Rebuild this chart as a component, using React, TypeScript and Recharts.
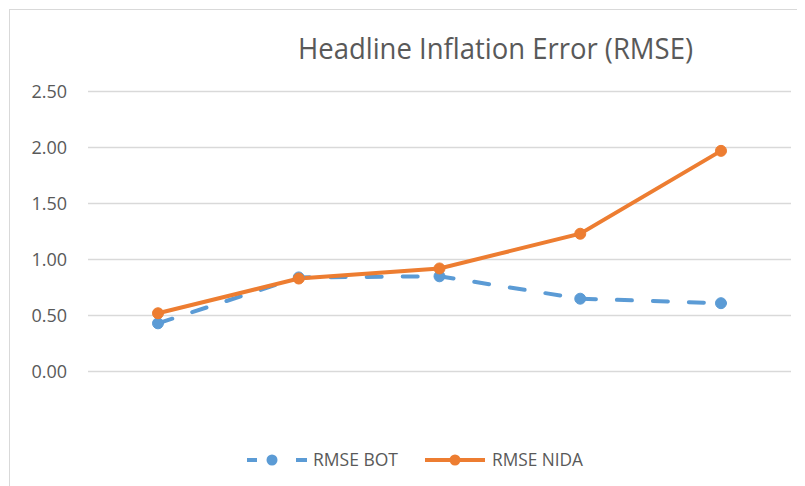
import React from "react";
import { LineChart, Line, XAxis, YAxis, CartesianGrid } from "recharts";

const categories = ["H1", "H2", "H3", "H4", "H5"];
const rmseBot = [0.43, 0.84, 0.85, 0.65, 0.61];
const rmseNida = [0.52, 0.83, 0.92, 1.23, 1.97];
const yTicks = [0, 0.5, 1, 1.5, 2, 2.5];
const seriesNames = ["RMSE BOT", "RMSE NIDA"];
const title = "Headline Inflation Error (RMSE)";

const data = categories.map((c, i) => ({ cat: c, bot: rmseBot[i], nida: rmseNida[i] }));

const BLUE = "#5B9BD5";
const ORANGE = "#ED7D31";
const FONT = "'Open Sans', 'Liberation Sans', sans-serif";

export default function App() {
  return (
    <div style={{ position: "relative", width: 797, height: 478, background: "#fff" }}>
      <div
        style={{
          position: "absolute",
          left: 1,
          top: 1,
          right: -20,
          bottom: -20,
          borderLeft: "1px solid #d9d9d9",
          borderTop: "1px solid #d9d9d9",
        }}
      />
      <LineChart
        width={797}
        height={478}
        data={data}
        margin={{ top: 83.5, right: 14, bottom: 114.5, left: 0 }}
        style={{ position: "absolute", left: 0, top: 0 }}
      >
        <CartesianGrid vertical={false} stroke="#d9d9d9" strokeWidth={1.4} />
        <XAxis dataKey="cat" hide padding={{ left: 70, right: 70 }} />
        <YAxis
          width={80}
          domain={[0, 2.5]}
          ticks={yTicks}
          tickFormatter={(v: number) => v.toFixed(2)}
          axisLine={false}
          tickLine={false}
          tickSize={0}
          tickMargin={21}
          tick={{ fill: "#595959", fontSize: 18, fontFamily: FONT }}
        />
        <Line
          dataKey="bot"
          name={seriesNames[0]}
          stroke={BLUE}
          strokeWidth={4}
          strokeDasharray="15 21"
          strokeLinecap="round"
          dot={{ r: 5.5, fill: BLUE, stroke: BLUE, strokeWidth: 1, strokeDasharray: "" }}
          isAnimationActive={false}
        />
        <Line
          dataKey="nida"
          name={seriesNames[1]}
          stroke={ORANGE}
          strokeWidth={4}
          dot={{ r: 5.5, fill: ORANGE, stroke: ORANGE, strokeWidth: 1 }}
          isAnimationActive={false}
        />
      </LineChart>
      <svg
        width={797}
        height={478}
        style={{ position: "absolute", left: 0, top: 0, pointerEvents: "none" }}
      >
        <text
          x={290}
          y={51}
          fontSize={30}
          fontFamily={FONT}
          fill="#595959"
          textLength={395}
          lengthAdjust="spacingAndGlyphs"
        >
          {title}
        </text>
        <line x1={239} y1={452} x2={249} y2={452} stroke={BLUE} strokeWidth={4} />
        <circle cx={264} cy={452} r={5.5} fill={BLUE} />
        <line x1={288} y1={452} x2={299} y2={452} stroke={BLUE} strokeWidth={4} />
        <text x={305} y={458} fontSize={18} fontFamily={FONT} fill="#595959" textLength={85} lengthAdjust="spacingAndGlyphs">
          {seriesNames[0]}
        </text>
        <line x1={417} y1={452} x2={477} y2={452} stroke={ORANGE} strokeWidth={4} />
        <circle cx={447} cy={452} r={5.5} fill={ORANGE} />
        <text x={484} y={458} fontSize={18} fontFamily={FONT} fill="#595959" textLength={91} lengthAdjust="spacingAndGlyphs">
          {seriesNames[1]}
        </text>
      </svg>
    </div>
  );
}
